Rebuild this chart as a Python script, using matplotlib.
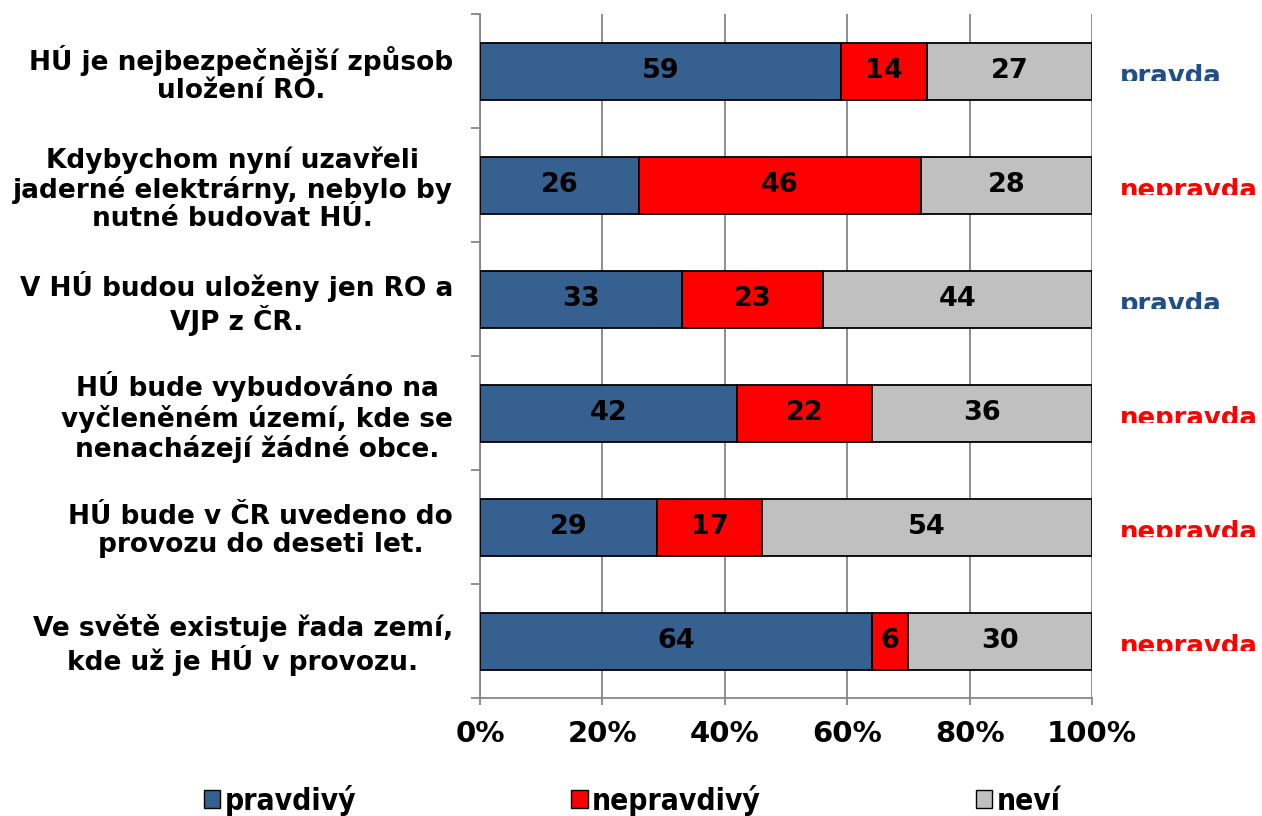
import matplotlib.pyplot as plt
import numpy as np
from matplotlib.patches import Patch
from matplotlib.transforms import Bbox, TransformedBbox

# statements (top to bottom)
statements = [
    "HÚ je nejbezpečnější způsob\nuložení RO.",
    "Kdybychom nyní uzavřeli\njaderné elektrárny, nebylo by\nnutné budovat HÚ.",
    "V HÚ budou uloženy jen RO a\nVJP z ČR.",
    "HÚ bude vybudováno na\nvyčleněném území, kde se\nnenacházejí žádné obce.",
    "HÚ bude v ČR uvedeno do\nprovozu do deseti let.",
    "Ve světě existuje řada zemí,\nkde už je HÚ v provozu.",
]
pravdivy = [59, 26, 33, 42, 29, 64]
nepravdivy = [14, 46, 23, 22, 17, 6]
nevi = [27, 28, 44, 36, 54, 30]
spravne = ["pravda", "nepravda", "pravda", "nepravda", "nepravda", "nepravda"]

series_names = ["pravdivý", "nepravdivý", "neví"]
colors = ["#35608F", "#FF0000", "#C0C0C0"]
answer_colors = {"pravda": "#1F4E89", "nepravda": "#FF0000"}

plt.rcParams['font.family'] = ['DejaVu Sans']
plt.rcParams['font.weight'] = 'bold'

fig = plt.figure(figsize=(12.62, 8.16), dpi=100)
ax = fig.add_axes([480 / 1262, 1 - 698 / 816, 612 / 1262, 684 / 816])

y = np.arange(len(statements))
left = np.zeros(len(statements))
for vals, col in zip([pravdivy, nepravdivy, nevi], colors):
    vals = np.array(vals)
    ax.barh(y, vals, left=left, height=0.5, color=col, edgecolor='black',
            linewidth=1.3, zorder=3)
    for yi, l, v in zip(y, left, vals):
        ax.text(l + v / 2, yi, str(v), ha='center', va='center',
                fontsize=19.5, fontweight='bold', color='black', zorder=4)
    left = left + vals

ax.set_xlim(0, 100)
ax.set_ylim(len(statements) - 0.5, -0.5)

ax.set_xticks(range(0, 101, 20))
ax.set_xticklabels([f"{v}%" for v in range(0, 101, 20)], fontsize=21, fontweight='bold')
ax.set_yticks(y)
ax.set_yticklabels(statements, fontsize=19, fontweight='bold', ha='right',
                   multialignment='center', linespacing=1.1)
ax.set_yticks(np.arange(-0.5, len(statements)), minor=True)
ax.tick_params(axis='y', which='major', length=0, pad=19.5)
ax.tick_params(axis='y', which='minor', length=6.5, width=1.3, color='#868686')
ax.tick_params(axis='x', length=5, width=1.3, color='#868686', pad=11)

ax.grid(axis='x', color='#868686', linewidth=1.3, zorder=0)
for s in ['top', 'right']:
    ax.spines[s].set_visible(False)
for s in ['left', 'bottom']:
    ax.spines[s].set_color('#868686')
    ax.spines[s].set_linewidth(1.3)

# correct answers on the right, cut at the baseline like in the source
for yi, ans in zip(y, spravne):
    ycen = 71.5 + 114 * yi
    t = ax.text(1120 / 1262, 1 - (ycen + 12) / 816, ans, transform=fig.transFigure,
                fontsize=18.7, fontweight='bold', color=answer_colors[ans],
                va='baseline')
    clip = TransformedBbox(Bbox([[0.86, 1 - (ycen + 9.5) / 816], [1, 1 - (ycen - 30) / 816]]),
                           fig.transFigure)
    t.set_clip_box(clip)
    t.set_clip_on(True)

handles = [Patch(facecolor=c, edgecolor='black', linewidth=1) for c in colors]
fig.legend(handles, series_names, loc='center', bbox_to_anchor=(0.501, 1 - 800 / 816),
           ncol=3, frameon=False, handlelength=0.55, handleheight=0.55,
           handletextpad=0.15, columnspacing=7.2, borderaxespad=0,
           prop={'size': 21.5, 'weight': 'bold', 'stretch': 'condensed'})

fig.savefig("out.png", dpi=100)
